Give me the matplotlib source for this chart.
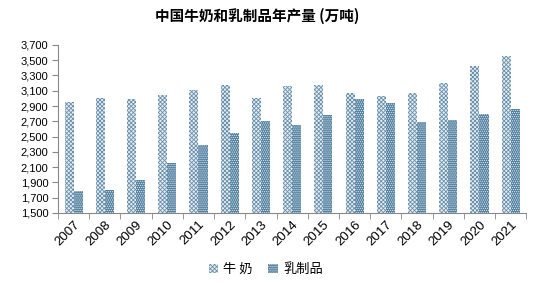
import matplotlib
matplotlib.use("Agg")
import matplotlib.pyplot as plt
import numpy as np
from matplotlib.ticker import FuncFormatter, FixedLocator

plt.rcParams['font.family'] = ['Liberation Sans', 'Noto Sans CJK SC', 'DejaVu Sans']
plt.rcParams['hatch.linewidth'] = 0.6

years = ["2007", "2008", "2009", "2010", "2011", "2012", "2013", "2014",
         "2015", "2016", "2017", "2018", "2019", "2020", "2021"]
milk = [2948, 3009, 2991, 3040, 3110, 3175, 3000, 3158, 3175, 3066, 3035, 3075, 3197, 3424, 3560]
dairy = [1784, 1807, 1933, 2156, 2388, 2545, 2703, 2650, 2782, 2992, 2935, 2686, 2716, 2791, 2860]
yticks = list(range(1500, 3701, 200))

fig = plt.figure(figsize=(5.42, 2.84), dpi=100)
ax = fig.add_axes([0.107, 0.25, 0.864, 0.592])

x = np.arange(len(years))
w = 0.29
ax.bar(x - w / 2, milk, w, color='#e6eef4', edgecolor='#6a90ab',
       hatch='xxxxxxxx', linewidth=0, label='牛 奶')
ax.bar(x + w / 2, dairy, w, color='#52809f', edgecolor='#dce7f0',
       hatch='........', linewidth=0, label='乳制品')

ax.set_ylim(1500, 3700)
ax.set_xlim(-0.5, len(years) - 0.5)
ax.set_yticks(yticks)
ax.yaxis.set_major_formatter(FuncFormatter(lambda v, p: f"{int(v):,}"))
ax.tick_params(axis='y', labelsize=8, length=4, color='#888888', pad=3)

ax.set_xticks(x)
ax.set_xticklabels(years, rotation=45, ha='right', rotation_mode='anchor', fontsize=9.5)
ax.tick_params(axis='x', length=0, pad=4)
ax.xaxis.set_minor_locator(FixedLocator(np.arange(-0.5, len(years), 1)))
ax.tick_params(axis='x', which='minor', length=4, color='#888888')

for s in ['top', 'right']:
    ax.spines[s].set_visible(False)
ax.spines['left'].set_color('#888888')
ax.spines['bottom'].set_color('#888888')

fig.text(0.475, 0.945, "中国牛奶和乳制品年产量 (万吨)", ha='center', va='center',
         fontsize=10.5, fontweight='bold', family=['Noto Sans CJK SC', 'DejaVu Sans'])

fig.legend(loc='center', bbox_to_anchor=(0.49, 0.05), ncol=2, frameon=False,
           handlelength=0.7, handleheight=0.7, handletextpad=0.4, columnspacing=1.2,
           prop={'family': ['Noto Sans CJK SC', 'DejaVu Sans'], 'size': 9.5})

fig.savefig("out.png", dpi=100)
